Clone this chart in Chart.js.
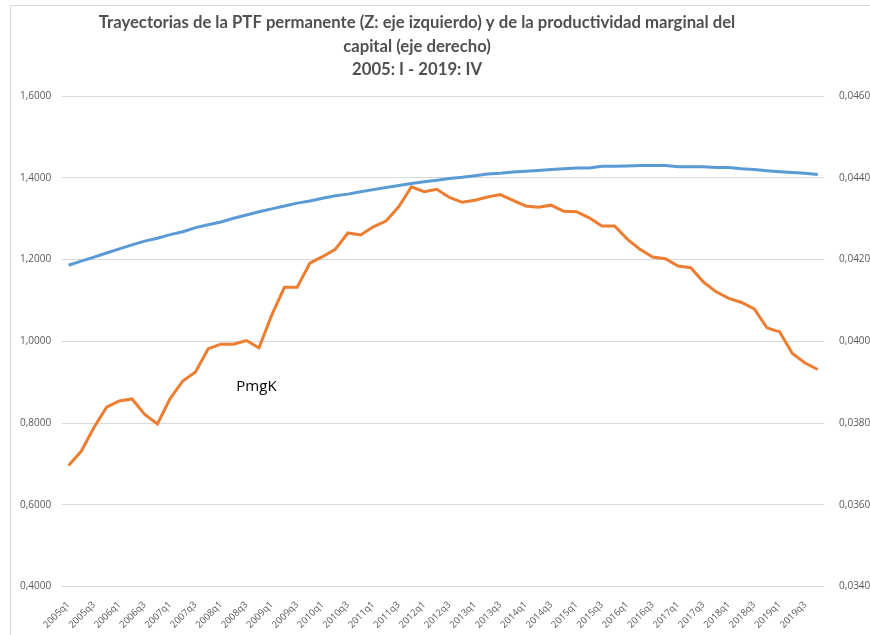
<!DOCTYPE html>
<html>
<head>
<meta charset="utf-8">
<script src="https://cdn.jsdelivr.net/npm/chart.js@4"></script>
<style>
  body { margin: 0; background: #fff; }
  #wrap { position: relative; width: 870px; height: 635px; overflow: hidden; }
  #marco { position: absolute; left: 10px; top: 5px; width: 900px; height: 700px;
           border-left: 1px solid #d9d9d9; border-top: 1px solid #d9d9d9; }
  #grafico { position: absolute; left: 0; top: 0; }
</style>
</head>
<body>
<div id="wrap">
  <div id="marco"></div>
  <canvas id="grafico" width="916" height="635"></canvas>
</div>
<script>
// trimestres 2005q1 - 2019q4
const trimestres = [];
for (let a = 2005; a <= 2019; a++) {
    for (let q = 1; q <= 4; q++) trimestres.push(a + "q" + q);
}

// PTF permanente Z (eje izquierdo)
const ptfZ = [
    1.186, 1.196, 1.206, 1.216, 1.226, 1.236, 1.245, 1.252, 1.261, 1.268,
    1.278, 1.285, 1.292, 1.301, 1.309, 1.317, 1.324, 1.331, 1.338, 1.343,
    1.350, 1.356, 1.360, 1.366, 1.371, 1.376, 1.381, 1.386, 1.390, 1.394,
    1.398, 1.401, 1.405, 1.409, 1.411, 1.414, 1.416, 1.418, 1.420, 1.422,
    1.424, 1.424, 1.428, 1.428, 1.429, 1.430, 1.430, 1.430, 1.427, 1.427,
    1.427, 1.425, 1.425, 1.422, 1.420, 1.417, 1.415, 1.413, 1.411, 1.408
];

// productividad marginal del capital PmgK (eje derecho)
const pmgK = [
    0.03696, 0.03731, 0.03789, 0.03839, 0.03854, 0.03859, 0.03821, 0.03798, 0.03860, 0.03903,
    0.03925, 0.03982, 0.03993, 0.03993, 0.04002, 0.03984, 0.04064, 0.04132, 0.04132, 0.04191,
    0.04207, 0.04225, 0.04265, 0.04260, 0.04280, 0.04294, 0.04329, 0.04378, 0.04366, 0.04372,
    0.04352, 0.04340, 0.04345, 0.04353, 0.04359, 0.04345, 0.04331, 0.04328, 0.04333, 0.04318,
    0.04317, 0.04302, 0.04282, 0.04282, 0.04250, 0.04225, 0.04206, 0.04202, 0.04184, 0.04180,
    0.04145, 0.04121, 0.04105, 0.04095, 0.04079, 0.04033, 0.04023, 0.03970, 0.03947, 0.03931
];

const titulo = [
    "Trayectorias de la PTF permanente (Z: eje izquierdo) y de la productividad marginal del",
    "capital (eje derecho)",
    "2005: I - 2019: IV"
];

const grisTexto = "#595959";
const grisRejilla = "#d9d9d9";

const textosExtra = {
    id: "textosExtra",
    afterDraw(chart) {
        const ctx = chart.ctx;
        ctx.save();
        ctx.fillStyle = "#505050";
        ctx.font = "bold 16.7px Lato";
        ctx.textAlign = "center";
        ctx.textBaseline = "middle";
        ctx.fillText(titulo[0], 417, 23);
        ctx.fillText(titulo[1], 417, 47);
        ctx.fillText(titulo[2], 417, 70);

        // etiqueta de la serie PmgK
        const x = chart.scales.x.getPixelForValue(14.8);
        const y = chart.scales.yDer.getPixelForValue(0.0389);
        ctx.fillStyle = "#000";
        ctx.font = "15px 'Open Sans'";
        ctx.fillText("PmgK", x, y);
        ctx.restore();
    }
};

new Chart(document.getElementById("grafico"), {
    type: "line",
    data: {
        labels: trimestres,
        datasets: [
            {
                label: "Z",
                data: ptfZ,
                yAxisID: "yIzq",
                borderColor: "#5b9bd5",
                borderWidth: 3,
                pointRadius: 0,
                tension: 0
            },
            {
                label: "PmgK",
                data: pmgK,
                yAxisID: "yDer",
                borderColor: "#ed7d31",
                borderWidth: 3,
                pointRadius: 0,
                tension: 0
            }
        ]
    },
    options: {
        responsive: false,
        animation: false,
        layout: { padding: { top: 96, left: 9, right: 25, bottom: 0 } },
        plugins: {
            legend: { display: false },
            tooltip: { enabled: false }
        },
        scales: {
            x: {
                offset: true,
                grid: { display: false },
                border: { display: false },
                ticks: {
                    autoSkip: false,
                    maxRotation: 45,
                    minRotation: 45,
                    padding: 4.5,
                    color: grisTexto,
                    font: { family: "'Open Sans'", size: 9.5 },
                    callback: function (v, i) {
                        return i % 2 === 0 ? trimestres[i] : "";
                    }
                }
            },
            yIzq: {
                position: "left",
                min: 0.4,
                max: 1.6,
                grid: { color: grisRejilla, drawTicks: false },
                border: { display: false },
                ticks: {
                    stepSize: 0.2,
                    padding: 11,
                    color: grisTexto,
                    font: { family: "'Open Sans'", size: 10 },
                    callback: v => v.toFixed(4).replace(".", ",")
                }
            },
            yDer: {
                position: "right",
                min: 0.034,
                max: 0.046,
                grid: { display: false, drawTicks: false },
                border: { display: false },
                ticks: {
                    stepSize: 0.002,
                    padding: 15,
                    color: grisTexto,
                    font: { family: "'Open Sans'", size: 10 },
                    callback: v => v.toFixed(5).replace(".", ",")
                }
            }
        }
    },
    plugins: [textosExtra]
});
</script>
</body>
</html>
